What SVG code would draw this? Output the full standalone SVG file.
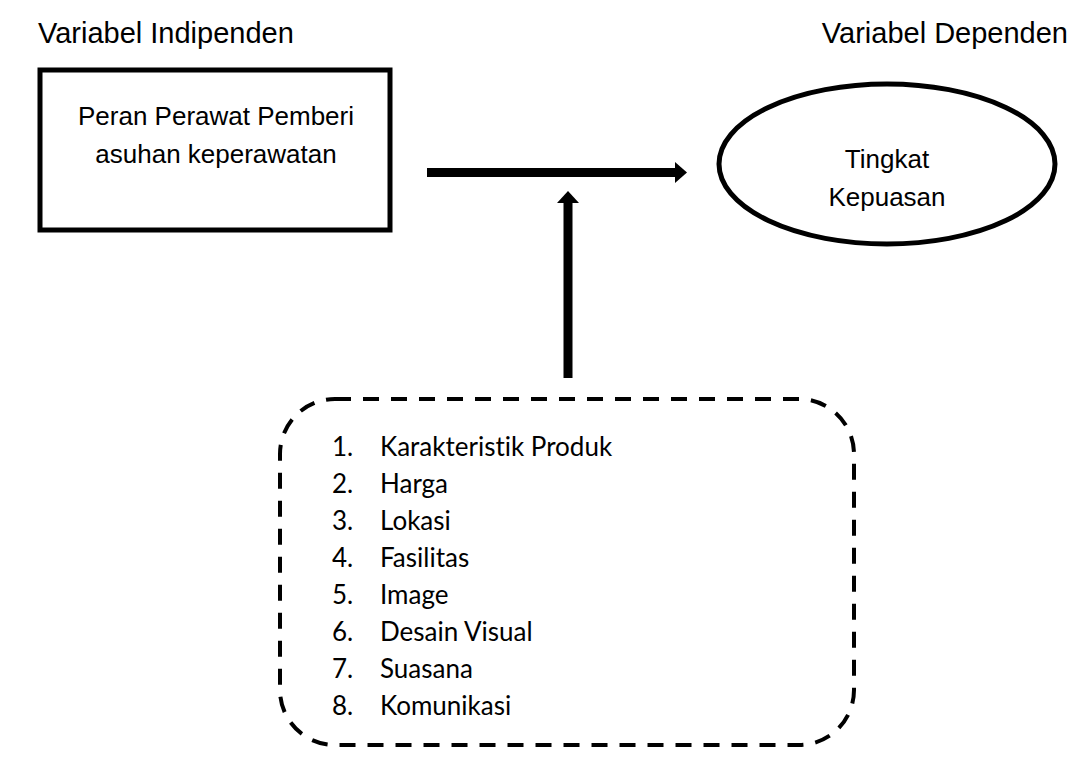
<svg xmlns="http://www.w3.org/2000/svg" width="1086" height="774" viewBox="0 0 1086 774">
<style>
.t{font-family:"Liberation Sans",Arial,sans-serif;font-size:26px;fill:#000}
.h{font-size:29px}
.c{text-anchor:middle}
.l{font-family:Lato,"Open Sans",sans-serif;font-size:26px;fill:#000;font-variant-ligatures:none}
.thick{fill:#fff;stroke:#000;stroke-width:5}
</style>
<rect width="1086" height="774" fill="#fff"/>
<text class="t h" x="38" y="43">Variabel Indipenden</text>
<text class="t h" x="1068" y="43" text-anchor="end">Variabel Dependen</text>
<g id="node-peran">
<rect class="thick" x="40" y="70" width="350" height="160"/>
<text class="t c" x="216" y="125">Peran Perawat Pemberi</text>
<text class="t c" x="216" y="163">asuhan keperawatan</text>
</g>
<g id="node-kepuasan">
<ellipse class="thick" cx="887" cy="164" rx="168" ry="80"/>
<text class="t c" x="887" y="168">Tingkat</text>
<text class="t c" x="887" y="206">Kepuasan</text>
</g>
<g id="node-faktor">
<rect x="280" y="399" width="574" height="346" rx="55" ry="55" fill="none" stroke="#000" stroke-width="4" stroke-dasharray="16 12"/>
<g class="l">
<text x="332" y="456">1.</text><text x="380" y="456">Karakteristik Produk</text>
<text x="332" y="493">2.</text><text x="380" y="493">Harga</text>
<text x="332" y="530">3.</text><text x="380" y="530">Lokasi</text>
<text x="332" y="567">4.</text><text x="380" y="567">Fasilitas</text>
<text x="332" y="604">5.</text><text x="380" y="604">Image</text>
<text x="332" y="641">6.</text><text x="380" y="641">Desain Visual</text>
<text x="332" y="678">7.</text><text x="380" y="678">Suasana</text>
<text x="332" y="715">8.</text><text x="380" y="715">Komunikasi</text>
</g>
</g>
<g id="connectors" fill="#000">
<rect x="427" y="168" width="250" height="9"/>
<polygon points="675,162 687,172.5 675,183"/>
<rect x="563.5" y="200" width="9" height="178"/>
<polygon points="557,203 568,191 579,203"/>
</g>
</svg>
